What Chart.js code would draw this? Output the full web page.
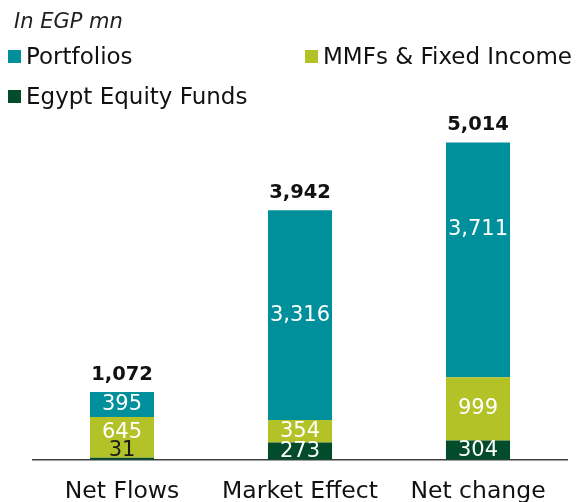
<!DOCTYPE html>
<html>
<head>
<meta charset="utf-8">
<script src="https://cdn.jsdelivr.net/npm/chart.js@4.4.1/dist/chart.umd.min.js"></script>
<style>
  html, body { margin: 0; padding: 0; background: #ffffff; }
  #wrap { position: relative; width: 577px; height: 502px; }
</style>
</head>
<body>
<div id="wrap"><canvas id="c" width="577" height="502"></canvas></div>
<script>
const categories = ["Net Flows", "Market Effect", "Net change"];
const equityFunds = [31, 273, 304];
const mmfsFixedIncome = [645, 354, 999];
const portfolios = [395, 3316, 3711];
const totals = [1072, 3942, 5014];
const unitNote = "In EGP mn";

const FONT = "'DejaVu Sans', sans-serif";
const COLORS = {
  portfolios: "#00909b",
  mmfs: "#b2c227",
  equity: "#024b2b"
};
// per-label vertical nudges (style only): [datasetIndex][categoryIndex] in px
const LABEL_NUDGE = { "1-0": -5, "2-2": -30 };

const fmt = v => v.toLocaleString("en-US");

const overlayPlugin = {
  id: "overlay",
  afterDatasetsDraw(chart) {
    const ctx = chart.ctx;
    ctx.save();
    chart.data.datasets.forEach((ds, di) => {
      const meta = chart.getDatasetMeta(di);
      meta.data.forEach((el, i) => {
        const v = ds.data[i];
        const h = Math.abs(el.base - el.y);
        const nudge = LABEL_NUDGE[di + "-" + i] || 0;
        ctx.font = "21px " + FONT;
        ctx.textAlign = "center";
        ctx.textBaseline = "middle";
        if (h < 8) {
          ctx.fillStyle = "#1a1a1a";
          ctx.fillText(fmt(v), el.x, el.base - 9 + nudge);
        } else {
          ctx.fillStyle = "#ffffff";
          ctx.fillText(fmt(v), el.x, (el.y + el.base) / 2 + nudge);
        }
      });
    });
    const lastMeta = chart.getDatasetMeta(chart.data.datasets.length - 1);
    lastMeta.data.forEach((el, i) => {
      ctx.font = "bold 19.5px " + FONT;
      ctx.fillStyle = "#111111";
      ctx.textAlign = "center";
      ctx.textBaseline = "middle";
      ctx.fillText(fmt(totals[i]), el.x, el.y - 17);
    });
    ctx.font = "italic 21px " + FONT;
    ctx.fillStyle = "#222222";
    ctx.textAlign = "left";
    ctx.textBaseline = "middle";
    ctx.fillText(unitNote, 14, 23);
    const items = [
      { x: 8, y: 57 },
      { x: 305, y: 57 },
      { x: 8, y: 97 }
    ];
    const order = [2, 1, 0];
    items.forEach((it, k) => {
      const ds = chart.data.datasets[order[k]];
      ctx.fillStyle = ds.backgroundColor;
      ctx.fillRect(it.x, it.y - 7, 13, 13);
      ctx.fillStyle = "#111111";
      ctx.font = "23px " + FONT;
      ctx.textAlign = "left";
      ctx.textBaseline = "middle";
      ctx.fillText(ds.label, it.x + 18, it.y + 1);
    });
    ctx.restore();
  }
};

new Chart(document.getElementById("c"), {
  type: "bar",
  data: {
    labels: categories,
    datasets: [
      { label: "Egypt Equity Funds", data: equityFunds, backgroundColor: COLORS.equity },
      { label: "MMFs & Fixed Income", data: mmfsFixedIncome, backgroundColor: COLORS.mmfs },
      { label: "Portfolios", data: portfolios, backgroundColor: COLORS.portfolios }
    ]
  },
  options: {
    responsive: false,
    animation: false,
    layout: { padding: { top: 118, left: 33, right: 10, bottom: -22 } },
    datasets: { bar: { barPercentage: 0.36, categoryPercentage: 1.0 } },
    plugins: {
      legend: { display: false },
      tooltip: { enabled: false },
      title: { display: false }
    },
    scales: {
      x: {
        stacked: true,
        grid: { display: false, drawTicks: false },
        border: { display: true, color: "#404040", width: 1.5 },
        ticks: { color: "#111111", font: { family: FONT, size: 23.5 }, padding: 18 }
      },
      y: {
        stacked: true,
        display: false,
        min: 0,
        max: 5400
      }
    }
  },
  plugins: [overlayPlugin]
});
</script>
</body>
</html>
